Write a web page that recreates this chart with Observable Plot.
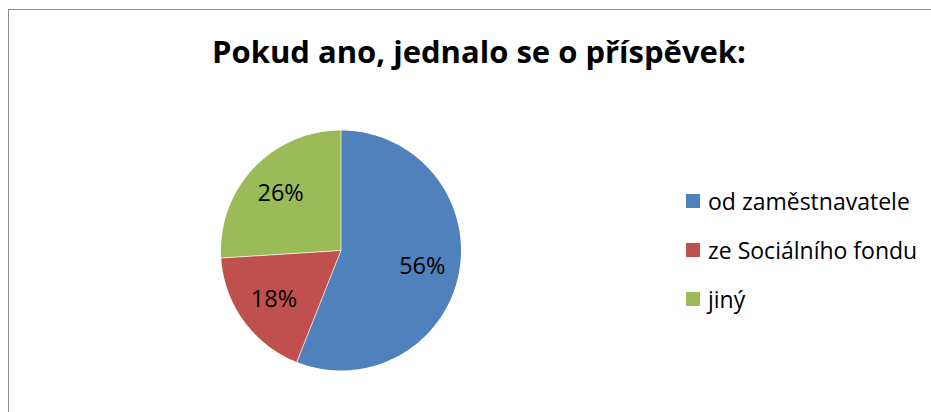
<!DOCTYPE html>
<html><head><meta charset="utf-8">
<script src="https://cdn.jsdelivr.net/npm/d3@7"></script>
<script src="https://cdn.jsdelivr.net/npm/@observablehq/plot@0.6"></script>
<style>
body{margin:0;background:#fff;font-family:"Open Sans",sans-serif;}
#wrap{position:relative;width:931px;height:412px;overflow:hidden;background:#fff;}
#border{position:absolute;left:8px;top:9px;width:940px;height:420px;border:1.5px solid #8c8c8c;box-sizing:border-box;}
#title{position:absolute;left:0;top:35px;width:958px;text-align:center;font-weight:700;font-size:31px;line-height:32px;color:#000;white-space:nowrap;}
#legend{position:absolute;left:686px;top:176px;}
.row{display:flex;align-items:center;height:49px;font-size:23px;color:#000;white-space:nowrap;}
.sw{width:14px;height:14px;margin-right:8px;flex:none;}
#chart{position:absolute;left:0;top:0;}
</style></head>
<body><div id="wrap"><div id="chart"></div><div id="border"></div><div id="title"></div><div id="legend"></div></div>
<script>
const titleText = "Pokud ano, jednalo se o příspěvek:";
const categories = ["od zaměstnavatele", "ze Sociálního fondu", "jiný"];
const values = [56, 18, 26];
const colors = ["#4F81BD", "#C0504D", "#9BBB59"];

const arcs = d3.pie().sort(null).value(d => d)(values);
const poly = [];
const seps = [];
const labels = [];
arcs.forEach((a, i) => {
  const cat = categories[i];
  poly.push({cat, x: 0, y: 0});
  const n = 120;
  for (let k = 0; k <= n; k++) {
    const t = a.startAngle + (a.endAngle - a.startAngle) * k / n;
    poly.push({cat, x: Math.sin(t), y: Math.cos(t)});
  }
  poly.push({cat, x: 0, y: 0});
  seps.push({x1: 0, y1: 0, x2: Math.sin(a.startAngle), y2: Math.cos(a.startAngle)});
  const m = (a.startAngle + a.endAngle) / 2;
  labels.push({x: 0.69 * Math.sin(m), y: 0.69 * Math.cos(m), text: values[i] + "%"});
});

const chart = Plot.plot({
  width: 931,
  height: 412,
  marginLeft: 220.5,
  marginRight: 470.5,
  marginTop: 130,
  marginBottom: 42,
  x: {domain: [-1, 1], axis: null},
  y: {domain: [-1, 1], axis: null},
  color: {domain: categories, range: colors},
  style: {background: "transparent", overflow: "visible"},
  marks: [
    Plot.line(poly, {x: "x", y: "y", z: "cat", fill: "cat", stroke: null}),
    Plot.link(seps, {x1: "x1", y1: "y1", x2: "x2", y2: "y2", stroke: "white", strokeOpacity: 0.7, strokeWidth: 1}),
    Plot.text(labels, {x: "x", y: "y", text: "text", fontSize: 23.5, fontFamily: "Open Sans", fill: "black"})
  ]
});
document.getElementById("chart").appendChild(chart);
document.getElementById("title").textContent = titleText;
const legend = document.getElementById("legend");
categories.forEach((c, i) => {
  const row = document.createElement("div");
  row.className = "row";
  const sw = document.createElement("div");
  sw.className = "sw";
  sw.style.background = colors[i];
  const tx = document.createElement("span");
  tx.textContent = c;
  row.appendChild(sw); row.appendChild(tx);
  legend.appendChild(row);
});
</script>
</body></html>
